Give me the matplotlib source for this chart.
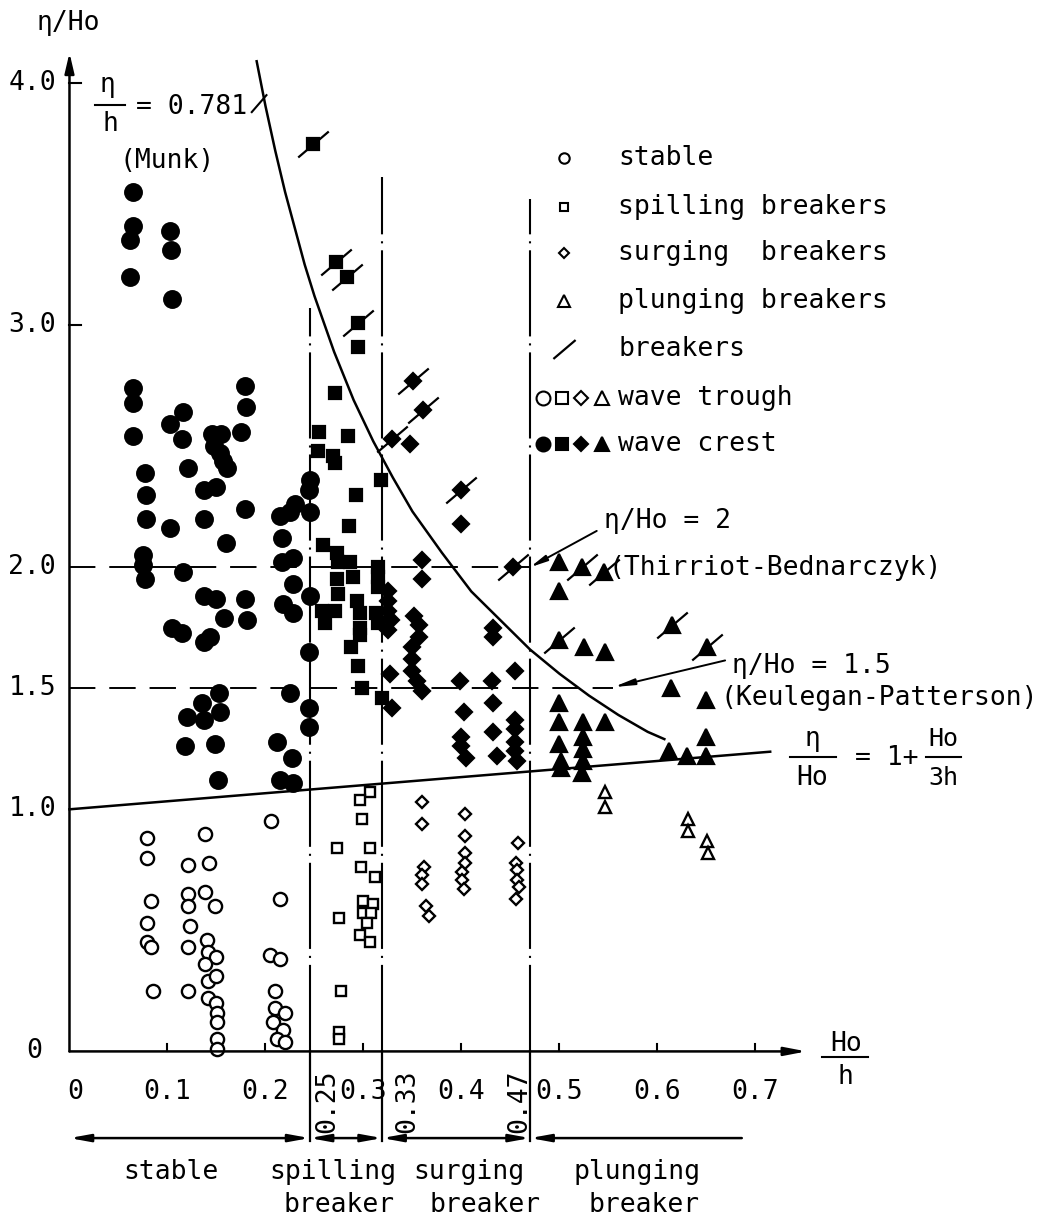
import matplotlib
matplotlib.use("Agg")
import matplotlib.pyplot as plt
from matplotlib.path import Path

plt.rcParams['lines.scale_dashes'] = False
plt.rcParams['font.family'] = ['DejaVu Sans Mono', 'DejaVu Sans']

# ---------------- data ----------------
# stable, wave crest (filled circles)
crest_circle_x = [0.065, 0.065, 0.062, 0.103, 0.104, 0.062, 0.105, 0.065, 0.179,
                  0.065, 0.180, 0.116, 0.103, 0.065, 0.115, 0.145, 0.155, 0.147, 0.154, 0.157,
                  0.161, 0.175, 0.077, 0.121, 0.078, 0.137, 0.150, 0.179, 0.078, 0.137, 0.103,
                  0.160, 0.075, 0.075, 0.077, 0.116, 0.137, 0.150, 0.179, 0.158, 0.181, 0.105,
                  0.115, 0.137, 0.143, 0.153, 0.135, 0.120, 0.137, 0.154, 0.118, 0.148, 0.152,
                  0.245, 0.244, 0.230, 0.215, 0.225, 0.245, 0.217, 0.217, 0.228, 0.228, 0.218,
                  0.228, 0.245, 0.244, 0.225, 0.244, 0.244, 0.212, 0.227, 0.215, 0.228]
crest_circle_y = [3.55, 3.41, 3.35, 3.39, 3.31, 3.20, 3.11, 2.74, 2.75,
                  2.68, 2.66, 2.64, 2.59, 2.54, 2.53, 2.55, 2.55, 2.50, 2.47, 2.44,
                  2.41, 2.56, 2.39, 2.41, 2.30, 2.32, 2.33, 2.24, 2.20, 2.20, 2.16,
                  2.10, 2.05, 2.01, 1.95, 1.98, 1.88, 1.87, 1.87, 1.79, 1.78, 1.75,
                  1.73, 1.69, 1.71, 1.48, 1.44, 1.38, 1.37, 1.40, 1.26, 1.27, 1.12,
                  2.36, 2.32, 2.26, 2.21, 2.23, 2.23, 2.12, 2.02, 2.04, 1.93, 1.85,
                  1.81, 1.88, 1.65, 1.48, 1.42, 1.34, 1.28, 1.21, 1.12, 1.11]
# stable, wave trough (open circles)
trough_circle_x = [0.079, 0.079, 0.083, 0.079, 0.079, 0.083, 0.085,
                   0.121, 0.121, 0.121, 0.123, 0.121, 0.121,
                   0.138, 0.142, 0.138, 0.148, 0.140, 0.141, 0.150, 0.138, 0.141, 0.150,
                   0.141, 0.150, 0.151, 0.151, 0.151, 0.151,
                   0.206, 0.215, 0.205, 0.215, 0.210, 0.210, 0.220, 0.208, 0.218, 0.212, 0.220]
trough_circle_y = [0.88, 0.80, 0.62, 0.53, 0.45, 0.43, 0.25,
                   0.77, 0.65, 0.60, 0.52, 0.43, 0.25,
                   0.90, 0.78, 0.66, 0.60, 0.46, 0.41, 0.39, 0.36, 0.29, 0.31,
                   0.22, 0.20, 0.16, 0.12, 0.05, 0.01,
                   0.95, 0.63, 0.40, 0.38, 0.25, 0.18, 0.16, 0.12, 0.09, 0.05, 0.04]
# spilling breakers
crest_square_x = [0.271, 0.255, 0.284, 0.254, 0.269, 0.271, 0.318, 0.292, 0.285, 0.259,
                  0.273, 0.286, 0.274, 0.273, 0.289, 0.274, 0.258, 0.261, 0.271, 0.293,
                  0.296, 0.296, 0.296, 0.287, 0.294, 0.298, 0.319, 0.315, 0.315, 0.315,
                  0.313, 0.315, 0.294]
crest_square_y = [2.72, 2.56, 2.54, 2.48, 2.46, 2.43, 2.36, 2.30, 2.17, 2.09,
                  2.06, 2.02, 2.02, 1.95, 1.96, 1.89, 1.82, 1.77, 1.82, 1.86,
                  1.81, 1.75, 1.72, 1.67, 1.59, 1.50, 1.46, 2.00, 1.96, 1.92,
                  1.81, 1.77, 2.91]
break_square_x = [0.248, 0.272, 0.283, 0.294]
break_square_y = [3.75, 3.26, 3.20, 3.01]
trough_square_x = [0.307, 0.296, 0.298, 0.273, 0.307, 0.297, 0.312, 0.275, 0.300, 0.310,
                   0.299, 0.308, 0.304, 0.296, 0.307, 0.277, 0.275, 0.275]
trough_square_y = [1.07, 1.04, 0.96, 0.84, 0.84, 0.76, 0.72, 0.55, 0.62, 0.61,
                   0.57, 0.57, 0.53, 0.48, 0.45, 0.25, 0.08, 0.05]
# surging breakers
crest_diamond_x = [0.347, 0.400, 0.360, 0.360, 0.352, 0.357, 0.357, 0.432, 0.432, 0.325,
                   0.325, 0.325, 0.328, 0.325, 0.327, 0.350, 0.350, 0.350, 0.355, 0.360,
                   0.329, 0.398, 0.431, 0.432, 0.455, 0.403, 0.400, 0.400, 0.405, 0.432,
                   0.436, 0.455, 0.455, 0.455, 0.455, 0.457]
crest_diamond_y = [2.51, 2.18, 2.03, 1.95, 1.80, 1.76, 1.71, 1.75, 1.71, 1.90,
                   1.86, 1.82, 1.78, 1.74, 1.56, 1.67, 1.62, 1.57, 1.53, 1.49,
                   1.42, 1.53, 1.53, 1.44, 1.57, 1.40, 1.30, 1.26, 1.21, 1.32,
                   1.22, 1.37, 1.33, 1.28, 1.24, 1.20]
break_diamond_x = [0.329, 0.361, 0.351, 0.400, 0.453]
break_diamond_y = [2.53, 2.65, 2.77, 2.32, 2.00]
trough_diamond_x = [0.360, 0.360, 0.362, 0.360, 0.360, 0.364, 0.367, 0.404, 0.404, 0.404,
                    0.404, 0.401, 0.401, 0.403, 0.458, 0.456, 0.457, 0.457, 0.459, 0.456]
trough_diamond_y = [1.03, 0.94, 0.76, 0.73, 0.69, 0.60, 0.56, 0.98, 0.89, 0.82,
                    0.78, 0.74, 0.71, 0.67, 0.86, 0.78, 0.75, 0.71, 0.68, 0.63]
# plunging breakers
crest_triangle_x = [0.499, 0.500, 0.525, 0.546, 0.614, 0.650, 0.500, 0.500, 0.500, 0.502,
                    0.502, 0.524, 0.524, 0.524, 0.524, 0.523, 0.546, 0.612, 0.630, 0.650, 0.650]
crest_triangle_y = [2.02, 1.90, 1.67, 1.65, 1.50, 1.45, 1.44, 1.36, 1.27, 1.20,
                    1.17, 1.36, 1.30, 1.25, 1.20, 1.15, 1.36, 1.24, 1.22, 1.30, 1.22]
break_triangle_x = [0.523, 0.545, 0.500, 0.615, 0.651]
break_triangle_y = [2.00, 1.98, 1.70, 1.76, 1.67]
trough_triangle_x = [0.546, 0.546, 0.631, 0.631, 0.651, 0.652]
trough_triangle_y = [1.07, 1.01, 0.96, 0.91, 0.87, 0.82]

# breaking limit eta/h = 0.781 (Munk)
munk_x = [0.191, 0.200, 0.210, 0.220, 0.230, 0.240, 0.250, 0.270, 0.290, 0.310, 0.330,
          0.350, 0.380, 0.410, 0.440, 0.470, 0.500, 0.530, 0.560, 0.590, 0.607]
munk_y = [4.09, 3.905, 3.72, 3.55, 3.40, 3.25, 3.12, 2.89, 2.69, 2.52, 2.37,
          2.23, 2.06, 1.90, 1.78, 1.66, 1.56, 1.47, 1.39, 1.32, 1.29]
# eta/Ho = 1 + Ho/3h
lin_x = [0.0, 0.715]
lin_y = [1.0, 1.238]

bounds = [0.245, 0.319, 0.470]
bound_labels = ['0.25', '0.33', '0.47']
bound_label_x = [0.263, 0.345, 0.459]
bound_tops = [3.07, 3.61, 3.52]
xticks = [0.1, 0.2, 0.3, 0.4, 0.5, 0.6, 0.7]
xtick_labels = ['0.1', '0.2', '0.3', '0.4', '0.5', '0.6', '0.7']
yticks = [4.0, 3.0, 2.0, 1.5, 1.0]
ytick_labels = ['4.0', '3.0', '2.0', '1.5', '1.0']
zone_top = ['stable', 'spilling', 'surging', 'plunging']
zone_top_x = [0.104, 0.269, 0.408, 0.579]
zone_bottom = ['', 'breaker', 'breaker', 'breaker']
zone_bottom_x = [0.0, 0.275, 0.424, 0.586]
legend_labels = ['stable', 'spilling breakers', 'surging  breakers', 'plunging breakers', 'breakers']

# ---------------- figure ----------------
fig = plt.figure(figsize=(10.64, 12.21), dpi=100)
ax = fig.add_axes([0, 0, 1, 1])
ax.set_xlim(-0.0709, 1.0148)
ax.set_ylim(-0.7005, 4.343)
ax.axis('off')

K = 'black'
FS = 19
LW = 1.8

# axes with arrows
ax.annotate('', xy=(0, 4.125), xytext=(0, 0),
            arrowprops=dict(arrowstyle='-|>,head_length=1.2,head_width=0.28', lw=LW, color=K,
                            shrinkA=0, shrinkB=0))
ax.annotate('', xy=(0.752, 0), xytext=(0, 0),
            arrowprops=dict(arrowstyle='-|>,head_length=1.3,head_width=0.25', lw=LW, color=K,
                            shrinkA=0, shrinkB=0))
for t, lab in zip(xticks, xtick_labels):
    ax.plot([t, t], [0, 0.03], color=K, lw=1.5)
    ax.text(t, -0.168, lab, ha='center', va='center', fontsize=FS)
ax.text(0.006, -0.168, '0', ha='center', va='center', fontsize=FS)
for t, lab in zip(yticks, ytick_labels):
    ax.text(-0.038, t, lab, ha='center', va='center', fontsize=FS)
for t in [4.0, 3.0]:
    ax.plot([0, 0.012], [t, t], color=K, lw=1.5)
ax.text(-0.036, 0.0, '0', ha='center', va='center', fontsize=FS)

# axis titles
ax.text(-0.001, 4.25, 'η/Ho', ha='center', va='center', fontsize=FS)
ax.text(0.792, 0.032, 'Ho', ha='center', va='center', fontsize=FS)
ax.plot([0.768, 0.815], [-0.023, -0.023], color=K, lw=1.5)
ax.text(0.792, -0.105, 'h', ha='center', va='center', fontsize=FS)

# horizontal reference lines
ax.plot([0, 0.47], [2.0, 2.0], color=K, lw=1.4, dashes=(19, 10))
ax.plot([0, 0.555], [1.5, 1.5], color=K, lw=1.4, dashes=(19, 10))

# vertical boundaries
for b, top, lab, lx in zip(bounds, bound_tops, bound_labels, bound_label_x):
    ax.plot([b, b], [0, top], color=K, lw=1.5, dashes=(62, 5, 1.5, 5))
    ax.plot([b, b], [0, -0.37], color=K, lw=1.6)
    ax.text(lx, -0.205, lab, ha='center', va='center', rotation=90, fontsize=FS)

# zone arrows
yarr = -0.358
seg = [(0.0, bounds[0]), (bounds[0], bounds[1]), (bounds[1], bounds[2])]
for a, b in seg:
    ax.annotate('', xy=(b, yarr), xytext=(a, yarr),
                arrowprops=dict(arrowstyle='<|-|>,head_length=1.2,head_width=0.22', lw=LW,
                                color=K, shrinkA=0, shrinkB=0))
ax.annotate('', xy=(bounds[2], yarr), xytext=(0.686, yarr),
            arrowprops=dict(arrowstyle='-|>,head_length=1.2,head_width=0.22', lw=LW,
                            color=K, shrinkA=0, shrinkB=0))
for zx, zl in zip(zone_top_x, zone_top):
    ax.text(zx, -0.50, zl, ha='center', va='center', fontsize=FS)
for zx, zl in zip(zone_bottom_x, zone_bottom):
    if zl:
        ax.text(zx, -0.635, zl, ha='center', va='center', fontsize=FS)

# curves
ax.plot(munk_x, munk_y, color=K, lw=LW, solid_joinstyle='round')
ax.plot(lin_x, lin_y, color=K, lw=LW)

# markers
slash = Path([(-1, -0.85), (1, 0.85)], [Path.MOVETO, Path.LINETO])


def pts(x, y, m, ms, filled=True, mew=1.6):
    ax.plot(x, y, ls='none', marker=m, ms=ms, mec=K, mfc=K if filled else 'white', mew=mew)


pts(trough_circle_x, trough_circle_y, 'o', 9.5, False, 1.7)
pts(trough_square_x, trough_square_y, 's', 7.0, False, 1.7)
pts(trough_diamond_x, trough_diamond_y, 'D', 6.5, False, 1.7)
pts(trough_triangle_x, trough_triangle_y, '^', 9.0, False, 1.7)
pts(crest_circle_x, crest_circle_y, 'o', 12)
pts(crest_square_x, crest_square_y, 's', 9)
pts(break_square_x, break_square_y, 's', 9)
pts(crest_diamond_x, crest_diamond_y, 'D', 8)
pts(break_diamond_x, break_diamond_y, 'D', 8)
pts(crest_triangle_x, crest_triangle_y, '^', 11)
pts(break_triangle_x, break_triangle_y, '^', 11)
for bx, by in [(break_square_x, break_square_y), (break_diamond_x, break_diamond_y),
               (break_triangle_x, break_triangle_y)]:
    ax.plot(bx, by, ls='none', marker=slash, ms=22, mec=K, mew=1.6)

# annotations
ax.text(0.0383, 3.99, 'η', ha='center', va='center', fontsize=FS)
ax.plot([0.026, 0.057], [3.91, 3.91], color=K, lw=1.5)
ax.text(0.0413, 3.83, 'h', ha='center', va='center', fontsize=FS)
ax.text(0.068, 3.90, '= 0.781', ha='left', va='center', fontsize=FS)
ax.plot([0.186, 0.201], [3.88, 3.95], color=K, lw=1.5)
ax.text(0.10, 3.68, '(Munk)', ha='center', va='center', fontsize=FS)

ax.annotate('', xy=(0.47, 2.0), xytext=(0.538, 2.15),
            arrowprops=dict(arrowstyle='-|>,head_length=1.0,head_width=0.18', lw=1.4, color=K,
                            shrinkA=0, shrinkB=0))
ax.text(0.545, 2.19, 'η/Ho = 2', ha='left', va='center', fontsize=FS)
ax.text(0.550, 1.995, '(Thirriot-Bednarczyk)', ha='left', va='center', fontsize=FS)
ax.annotate('', xy=(0.555, 1.505), xytext=(0.669, 1.615),
            arrowprops=dict(arrowstyle='-|>,head_length=1.2,head_width=0.18', lw=1.4, color=K,
                            shrinkA=0, shrinkB=0))
ax.text(0.676, 1.59, 'η/Ho = 1.5', ha='left', va='center', fontsize=FS)
ax.text(0.664, 1.46, '(Keulegan-Patterson)', ha='left', va='center', fontsize=FS)
ax.text(0.758, 1.29, 'η', ha='center', va='center', fontsize=FS)
ax.plot([0.735, 0.782], [1.215, 1.215], color=K, lw=1.5)
ax.text(0.758, 1.13, 'Ho', ha='center', va='center', fontsize=FS)
ax.text(0.802, 1.21, '= 1+', ha='left', va='center', fontsize=FS)
ax.text(0.892, 1.29, 'Ho', ha='center', va='center', fontsize=FS - 1)
ax.plot([0.874, 0.910], [1.215, 1.215], color=K, lw=1.5)
ax.text(0.892, 1.13, '3h', ha='center', va='center', fontsize=FS - 1)

# legend
leg_x = 0.505
txt_x = 0.56
leg_y = [3.69, 3.49, 3.30, 3.10, 2.90]
leg_m = ['o', 's', 'D', '^']
leg_ms = [7.5, 6, 5.5, 8]
for yy, m, ms in zip(leg_y[:4], leg_m, leg_ms):
    ax.plot([leg_x], [yy], ls='none', marker=m, ms=ms, mec=K, mfc='white', mew=1.5)
ax.plot([leg_x], [leg_y[4]], ls='none', marker=slash, ms=16, mec=K, mew=1.6)
for yy, lab in zip(leg_y, legend_labels):
    ax.text(txt_x, yy, lab, ha='left', va='center', fontsize=FS)
row_x = [0.483, 0.503, 0.522, 0.543]
row_ms = [10, 8, 7, 10]
for fill, yy, lab in [(False, 2.70, 'wave trough'), (True, 2.51, 'wave crest')]:
    for xx, m, ms in zip(row_x, leg_m, row_ms):
        ax.plot([xx], [yy], ls='none', marker=m, ms=ms, mec=K,
                mfc=K if fill else 'white', mew=1.5)
    ax.text(txt_x, yy, lab, ha='left', va='center', fontsize=FS)

fig.savefig('out.png', dpi=100, facecolor='white')
